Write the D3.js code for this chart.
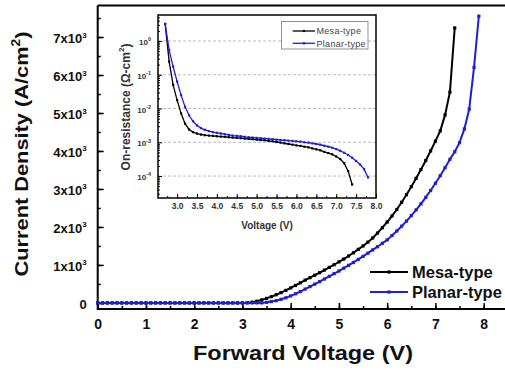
<!DOCTYPE html>
<html>
<head>
<meta charset="utf-8">
<script src="https://cdn.jsdelivr.net/npm/d3@7"></script>
<style>
  body { margin: 0; background: #fff; }
  svg { display: block; font-family: "Liberation Sans", Arial, sans-serif; }
</style>
</head>
<body>
<script>
// forward voltage (V), 0.1 V steps
const voltage = [
  0.0, 0.1, 0.2, 0.3, 0.4, 0.5, 0.6, 0.7, 0.8, 0.9,
  1.0, 1.1, 1.2, 1.3, 1.4, 1.5, 1.6, 1.7, 1.8, 1.9,
  2.0, 2.1, 2.2, 2.3, 2.4, 2.5, 2.6, 2.7, 2.8, 2.9,
  3.0, 3.1, 3.2, 3.3, 3.4, 3.5, 3.6, 3.7, 3.8, 3.9,
  4.0, 4.1, 4.2, 4.3, 4.4, 4.5, 4.6, 4.7, 4.8, 4.9,
  5.0, 5.1, 5.2, 5.3, 5.4, 5.5, 5.6, 5.7, 5.8, 5.9,
  6.0, 6.1, 6.2, 6.3, 6.4, 6.5, 6.6, 6.7, 6.8, 6.9,
  7.0, 7.1, 7.2, 7.3, 7.4, 7.5, 7.6, 7.7, 7.8, 7.9
];
// current density (A/cm2)
const mesaJ = [
  0, 0, 0, 0, 0, 0, 0, 0, 0, 0,
  0, 0, 0, 0, 0, 0, 0, 0, 0, 0,
  0, 0, 0, 0, 0, 0, 0, 0, 0, 0,
  0, 5, 20, 45, 80, 120, 165, 215, 270, 330,
  395, 460, 530, 600, 665, 730, 795, 865, 935, 1005,
  1080, 1155, 1235, 1320, 1410, 1500, 1600, 1710, 1840, 1980,
  2130, 2290, 2460, 2650, 2850, 3060, 3280, 3510, 3750, 4000,
  4260, 4530, 4950, 5550, 7240
];
const planarJ = [
  0, 0, 0, 0, 0, 0, 0, 0, 0, 0,
  0, 0, 0, 0, 0, 0, 0, 0, 0, 0,
  0, 0, 0, 0, 0, 0, 0, 0, 0, 0,
  0, 0, 0, 0, 0, 15, 35, 60, 95, 135,
  185, 240, 300, 365, 430, 495, 560, 630, 700, 770,
  840, 915, 990, 1065, 1145, 1225, 1310, 1395, 1480, 1570,
  1660, 1775, 1895, 2020, 2155, 2300, 2450, 2610, 2780, 2960,
  3150, 3350, 3560, 3780, 3980, 4220, 4580, 5100, 6200, 7550
];

// inset: on-resistance (ohm-cm2)
const insetVoltage = [
  2.7, 2.8, 2.9, 3.0, 3.1, 3.2, 3.3, 3.4, 3.5, 3.6, 3.7, 3.8, 3.9,
  4.0, 4.1, 4.2, 4.3, 4.4, 4.5, 4.6, 4.7, 4.8, 4.9,
  5.0, 5.1, 5.2, 5.3, 5.4, 5.5, 5.6, 5.7, 5.8, 5.9,
  6.0, 6.1, 6.2, 6.3, 6.4, 6.5, 6.6, 6.7, 6.8, 6.9,
  7.0, 7.1, 7.2, 7.3, 7.4, 7.5, 7.6, 7.7, 7.8
];
const mesaR = [
  3.2, 0.245, 0.050, 0.0178, 0.0072, 0.00355, 0.0024, 0.0020, 0.00182, 0.0017, 0.00162, 0.00158, 0.00155,
  0.00151, 0.00148, 0.00145, 0.00141, 0.00138, 0.00135, 0.00132, 0.00129, 0.00126, 0.00123,
  0.00120, 0.00117, 0.00115, 0.00110, 0.00107, 0.00102, 0.00098, 0.00093, 0.00089, 0.00085,
  0.00081, 0.00078, 0.00074, 0.00071, 0.00066, 0.00062, 0.00058, 0.00052, 0.00048, 0.00044,
  0.00038, 0.00032, 0.00024, 0.00014, 0.000056
];
const planarR = [
  3.2, 0.54, 0.174, 0.063, 0.025, 0.0112, 0.0063, 0.0042, 0.00316, 0.00263, 0.00234, 0.00214, 0.0020,
  0.00191, 0.00182, 0.00174, 0.00166, 0.00158, 0.00155, 0.00151, 0.00145, 0.00141, 0.00138,
  0.00135, 0.00132, 0.00129, 0.00126, 0.00123, 0.00120, 0.00117, 0.00115, 0.00112, 0.00110,
  0.00107, 0.00105, 0.00100, 0.00098, 0.00093, 0.00089, 0.00085, 0.00079, 0.00074, 0.00069,
  0.00063, 0.00056, 0.00049, 0.00042, 0.00035, 0.00028, 0.00022, 0.00016, 0.000091
];

const seriesNames = ["Mesa-type", "Planar-type"];
const seriesColors = ["#000000", "#1f1fcf"];
const xTicks = [0, 1, 2, 3, 4, 5, 6, 7, 8];
const yTicks = [0, 1000, 2000, 3000, 4000, 5000, 6000, 7000];
const insetXTicks = [3.0, 3.5, 4.0, 4.5, 5.0, 5.5, 6.0, 6.5, 7.0, 7.5, 8.0];
const insetYTicks = [1e0, 1e-1, 1e-2, 1e-3, 1e-4];

const width = 505, height = 370;
const svg = d3.select("body").append("svg")
    .attr("width", width)
    .attr("height", height);

// ---------- main plot ----------
const x = d3.scaleLinear().domain([0, 8.5]).range([97.7, 507.8]);
const y = d3.scaleLinear().domain([-160, 7830]).range([309, 5.5]);

const main = svg.append("g");

// bottom axis (ticks inward)
main.append("g")
    .attr("transform", `translate(0,${y.range()[0]})`)
    .call(d3.axisBottom(x).tickValues(d3.range(0, 8.51, 0.5)).tickSize(-3).tickFormat(""))
    .call(g => g.select(".domain").remove())
    .selectAll("line").attr("stroke", "#000").attr("stroke-width", 1.5);
main.append("g")
    .attr("transform", `translate(0,${y.range()[0]})`)
    .call(d3.axisBottom(x).tickValues(xTicks).tickSize(-6).tickPadding(10).tickFormat(d3.format("d")))
    .call(g => g.select(".domain").remove())
    .call(g => g.selectAll("line").attr("stroke", "#000").attr("stroke-width", 1.5))
    .call(g => g.selectAll("text").attr("font-size", 14).attr("font-weight", "bold").attr("fill", "#111"));

// left axis
main.append("g")
    .attr("transform", `translate(${x.range()[0]},0)`)
    .call(d3.axisLeft(y).tickValues(d3.range(0, 7801, 500)).tickSize(-3).tickFormat(""))
    .call(g => g.select(".domain").remove())
    .selectAll("line").attr("stroke", "#000").attr("stroke-width", 1.5);
const yAx = main.append("g")
    .attr("transform", `translate(${x.range()[0]},0)`)
    .call(d3.axisLeft(y).tickValues(yTicks).tickSize(-6).tickPadding(11).tickFormat(""))
    .call(g => g.select(".domain").remove())
    .call(g => g.selectAll("line").attr("stroke", "#000").attr("stroke-width", 1.5));
yAx.selectAll(".tick text")
    .attr("font-size", 13).attr("font-weight", "bold").attr("fill", "#111")
    .attr("dy", "0.4em")
    .each(function(d) {
      const t = d3.select(this);
      if (d === 0) { t.text("0"); return; }
      t.append("tspan").text((d / 1000) + "x10");
      t.append("tspan").attr("font-size", 8).attr("dy", "-0.65em").text("3");
    });

// frame: left, bottom, top (right side is cut off)
main.append("path")
    .attr("d", `M${x(0)},${y.range()[1]}V${y.range()[0]}H${width}M${x(0)},${y.range()[1]}H${width}`)
    .attr("fill", "none").attr("stroke", "#000").attr("stroke-width", 2);

// curves
const mainLine = d3.line().x(d => x(d[0])).y(d => y(d[1]));
const mainSeries = [
  mesaJ.map((v, i) => [voltage[i], v]),
  planarJ.map((v, i) => [voltage[i], v])
];
mainSeries.forEach((s, k) => {
  main.append("path").datum(s)
      .attr("d", mainLine)
      .attr("fill", "none").attr("stroke", seriesColors[k]).attr("stroke-width", 2);
  main.append("g").selectAll("rect").data(s).join("rect")
      .attr("x", d => x(d[0]) - 1.6).attr("y", d => y(d[1]) - 1.6)
      .attr("width", 3.2).attr("height", 3.2)
      .attr("fill", seriesColors[k]);
});

// axis titles
main.append("text")
    .attr("x", 303).attr("y", 360)
    .attr("text-anchor", "middle")
    .attr("font-size", 21).attr("font-weight", "bold").attr("fill", "#111")
    .attr("textLength", 220).attr("lengthAdjust", "spacingAndGlyphs")
    .text("Forward Voltage (V)");
const yTitle = main.append("text")
    .attr("transform", "translate(28,154) rotate(-90)")
    .attr("text-anchor", "middle")
    .attr("font-size", 19).attr("font-weight", "bold").attr("fill", "#111")
    .attr("textLength", 245).attr("lengthAdjust", "spacingAndGlyphs");
yTitle.append("tspan").text("Current Density (A/cm");
yTitle.append("tspan").attr("font-size", 12).attr("dy", "-0.7em").text("2");
yTitle.append("tspan").attr("dy", "0.45em").text(")");

// legend
seriesNames.forEach((name, k) => {
  const ly = 272 + k * 20;
  main.append("line")
      .attr("x1", 370).attr("x2", 408).attr("y1", ly).attr("y2", ly)
      .attr("stroke", seriesColors[k]).attr("stroke-width", 2);
  main.append("rect")
      .attr("x", 387.4).attr("y", ly - 1.6).attr("width", 3.2).attr("height", 3.2)
      .attr("fill", seriesColors[k]);
  main.append("text")
      .attr("x", 412).attr("y", ly + 6)
      .attr("font-size", 16.5).attr("font-weight", "bold").attr("fill", "#111")
      .text(name);
});

// ---------- inset ----------
const ix = d3.scaleLinear().domain([2.52, 8.0]).range([158, 376]);
const iy = d3.scaleLog().domain([Math.pow(10, -4.65), Math.pow(10, 0.77)]).range([198, 15]);

const inset = svg.append("g");
inset.append("rect")
    .attr("x", 158).attr("y", 15).attr("width", 218).attr("height", 183)
    .attr("fill", "#fff");

// grid
inset.append("g").selectAll("line").data(insetYTicks).join("line")
    .attr("x1", 158).attr("x2", 376)
    .attr("y1", d => iy(d)).attr("y2", d => iy(d))
    .attr("stroke", "#aaa").attr("stroke-width", 0.8).attr("stroke-dasharray", "3,2");

// x ticks
inset.append("g")
    .attr("transform", "translate(0,198)")
    .call(d3.axisBottom(ix).tickValues(d3.range(2.75, 8.01, 0.25)).tickSize(-2).tickFormat(""))
    .call(g => g.select(".domain").remove())
    .selectAll("line").attr("stroke", "#000");
inset.append("g")
    .attr("transform", "translate(0,198)")
    .call(d3.axisBottom(ix).tickValues(insetXTicks).tickSize(-4).tickPadding(5).tickFormat(d3.format(".1f")))
    .call(g => g.select(".domain").remove())
    .call(g => g.selectAll("line").attr("stroke", "#000"))
    .call(g => g.selectAll("text").attr("font-size", 8.5).attr("font-weight", "bold").attr("fill", "#333"));

// y ticks
const minorY = [];
for (let e = -5; e <= 0; e++) for (let m = 2; m <= 9; m++) {
  const v = m * Math.pow(10, e);
  if (v > iy.domain()[0] && v < iy.domain()[1]) minorY.push(v);
}
inset.append("g")
    .attr("transform", "translate(158,0)")
    .call(d3.axisLeft(iy).tickValues(minorY).tickSize(-2).tickFormat(""))
    .call(g => g.select(".domain").remove())
    .selectAll("line").attr("stroke", "#000");
const iyAx = inset.append("g")
    .attr("transform", "translate(158,0)")
    .call(d3.axisLeft(iy).tickValues(insetYTicks).tickSize(-4).tickPadding(7).tickFormat(""))
    .call(g => g.select(".domain").remove())
    .call(g => g.selectAll("line").attr("stroke", "#000"));
iyAx.selectAll(".tick text")
    .attr("font-size", 8).attr("font-weight", "bold").attr("fill", "#333")
    .attr("dy", "0.45em")
    .each(function(d) {
      const t = d3.select(this);
      t.append("tspan").text("10");
      t.append("tspan").attr("font-size", 5.5).attr("dy", "-0.7em").text(Math.round(Math.log10(d)));
    });

// inset frame
inset.append("rect")
    .attr("x", 158).attr("y", 15).attr("width", 218).attr("height", 183)
    .attr("fill", "none").attr("stroke", "#000").attr("stroke-width", 1.5);

// inset curves
const insetLine = d3.line().x(d => ix(d[0])).y(d => iy(d[1]));
const insetSeries = [
  mesaR.map((v, i) => [insetVoltage[i], v]),
  planarR.map((v, i) => [insetVoltage[i], v])
];
insetSeries.forEach((s, k) => {
  inset.append("path").datum(s)
      .attr("d", insetLine)
      .attr("fill", "none").attr("stroke", seriesColors[k]).attr("stroke-width", 1.3);
  inset.append("g").selectAll("rect").data(s).join("rect")
      .attr("x", d => ix(d[0]) - 1.1).attr("y", d => iy(d[1]) - 1.1)
      .attr("width", 2.2).attr("height", 2.2)
      .attr("fill", seriesColors[k]);
});

// inset legend
inset.append("rect")
    .attr("x", 281.5).attr("y", 21.5).attr("width", 86.5).attr("height", 27.5)
    .attr("fill", "#fff").attr("stroke", "#777").attr("stroke-width", 0.8);
seriesNames.forEach((name, k) => {
  const ly = 31 + k * 12.3;
  inset.append("line")
      .attr("x1", 292.7).attr("x2", 315).attr("y1", ly).attr("y2", ly)
      .attr("stroke", seriesColors[k]).attr("stroke-width", 1.3);
  inset.append("rect")
      .attr("x", 302.8).attr("y", ly - 1.1).attr("width", 2.2).attr("height", 2.2)
      .attr("fill", seriesColors[k]);
  inset.append("text")
      .attr("x", 316.5).attr("y", ly + 3.2)
      .attr("font-size", 9).attr("fill", "#444").attr("letter-spacing", 0.3)
      .text(name);
});

// inset titles
inset.append("text")
    .attr("x", 267).attr("y", 229)
    .attr("text-anchor", "middle")
    .attr("font-size", 10).attr("font-weight", "bold").attr("fill", "#333")
    .text("Voltage (V)");
const iyTitle = inset.append("text")
    .attr("transform", "translate(130,107) rotate(-90)")
    .attr("text-anchor", "middle")
    .attr("font-size", 12).attr("font-weight", "bold").attr("fill", "#333");
iyTitle.append("tspan").text("On-resistance (\u03A9-cm");
iyTitle.append("tspan").attr("font-size", 8).attr("dy", "-0.7em").text("2");
iyTitle.append("tspan").attr("dy", "0.45em").text(")");
</script>
</body>
</html>
